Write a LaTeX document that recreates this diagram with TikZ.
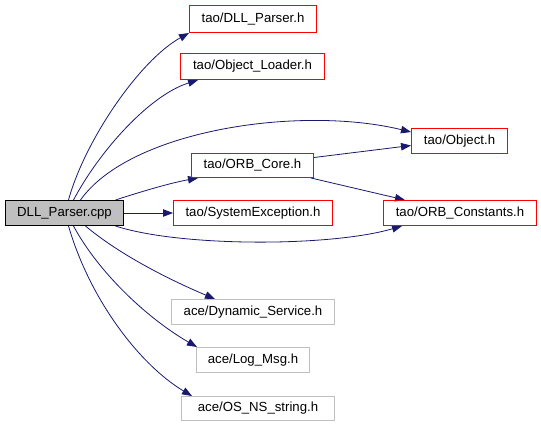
\documentclass[tikz,border=0pt]{standalone}
\usepackage{fontspec}
\setmainfont{Liberation Sans}
\usetikzlibrary{arrows.meta}
\definecolor{edgeblue}{HTML}{191970}
\definecolor{graybox}{HTML}{BFBFBF}
\definecolor{mainfill}{HTML}{BFBFBF}
\definecolor{boxred}{HTML}{FF0000}
\pgfdeclarelayer{background}
\pgfsetlayers{background,main}
\tikzset{
  box/.style={rectangle, inner sep=0pt, font=\fontsize{13.2}{15}\selectfont, line width=1pt},
  redbox/.style={box, draw=boxred},
  greybox/.style={box, draw=graybox},
  mainbox/.style={box, draw=black, fill=mainfill},
  edge/.style={draw=edgeblue, line width=0.8pt, -{Triangle[length=10pt,width=7.5pt]}}
}
\begin{document}
\begin{tikzpicture}[x=1pt,y=-1pt]
\useasboundingbox (0,0) rectangle (541,424);
\node[mainbox, minimum width=118pt, minimum height=25pt] (src) at (64.5,213) {DLL\_Parser.cpp};
\node[redbox, minimum width=127pt, minimum height=27pt] (dllh) at (253,19) {tao/DLL\_Parser.h};
\node[redbox, minimum width=144pt, minimum height=26pt] (objl) at (252.5,66.5) {tao/Object\_Loader.h};
\node[redbox, minimum width=159pt, minimum height=25pt] (sysx) at (253,213) {tao/SystemException.h};
\node[redbox, minimum width=96pt, minimum height=25pt] (objh) at (459.5,141) {tao/Object.h};
\node[redbox, minimum width=153pt, minimum height=25pt] (orbk) at (460,213) {tao/ORB\_Constants.h};
\node[redbox, minimum width=122pt, minimum height=24pt] (orbc) at (252.5,165.5) {tao/ORB\_Core.h};
\node[greybox, minimum width=163pt, minimum height=25pt] (dyn) at (253,312) {ace/Dynamic\_Service.h};
\node[greybox, minimum width=113pt, minimum height=25pt] (log) at (253,360) {ace/Log\_Msg.h};
\node[greybox, minimum width=153pt, minimum height=24pt] (osns) at (258,408.5) {ace/OS\_NS\_string.h};

\begin{pgfonlayer}{background}
\draw[edge] ([xshift=4pt]src.north) .. controls (85,140) and (140,60) .. (dllh.south west);
\draw[edge] ([xshift=9pt]src.north) .. controls (100,150) and (150,95) .. ([xshift=18pt]objl.south west);
\draw[edge] ([xshift=16pt]src.north) .. controls (130,130) and (300,105) .. ([yshift=-4pt]objh.north west);
\draw[edge] ([xshift=51pt]src.north) .. controls (140,192) and (170,183) .. ([xshift=7pt]orbc.south west);
\draw[edge] (src.east) -- (sysx.west);
\draw[edge] ([xshift=51pt]src.south) .. controls (180,247) and (330,247) .. ([xshift=19pt]orbk.south west);
\draw[edge] ([yshift=8pt]orbc.east) -- ([yshift=-4.5pt]objh.west);
\draw[edge] ([xshift=-3pt]orbc.south east) -- ([xshift=22pt]orbk.north west);
\draw[edge] ([xshift=21pt]src.south) .. controls (120,255) and (170,280) .. ([xshift=44pt]dyn.north west);
\draw[edge] ([xshift=9pt]src.south) .. controls (100,275) and (150,320) .. ([xshift=1pt]log.north west);
\draw[edge] ([xshift=4pt]src.south) .. controls (90,300) and (140,365) .. ([xshift=11pt]osns.north west);
\end{pgfonlayer}
\end{tikzpicture}
\end{document}
